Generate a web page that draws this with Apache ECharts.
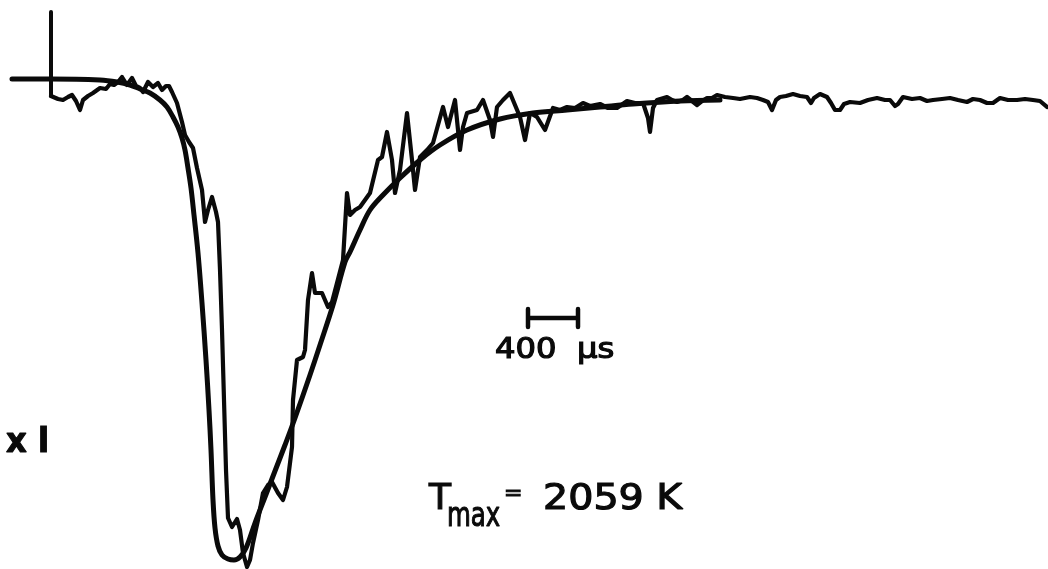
<!DOCTYPE html>
<html>
<head>
<meta charset="utf-8">
<title>Tmax = 2059 K</title>
<script src="https://cdn.jsdelivr.net/npm/echarts@6/dist/echarts.min.js"></script>
<style>
  html, body { margin: 0; padding: 0; background: #fff; }
  #chart { width: 1048px; height: 569px; }
</style>
</head>
<body>
<div id="chart"></div>
<script>
// Time in microseconds (0 = trigger marker), signal in arbitrary units (0 = baseline).

// Fitted (calculated) profile
const fitTime = [-312, -8, 392, 528, 632, 712, 792, 872, 928, 976, 1016, 1048, 1072, 1096, 1120, 1144,
  1176, 1208, 1240, 1264, 1280, 1296, 1312, 1336, 1368, 1416, 1464, 1512, 1560, 1632, 1712, 1792,
  1872, 1952, 2072, 2152, 2256, 2352, 2392, 2472, 2552, 2656, 2792, 2952, 3112, 3328, 3592, 3856,
  4128, 4392, 4656, 5032, 5352];
const fitSignal = [0, 0, -0.2, -0.6, -1.2, -2, -2.8, -4.2, -5.6, -7.6, -9.6, -11.8, -14.2, -17.8, -21.8, -27.2,
  -34.8, -44.8, -56.2, -66.2, -74.2, -84.2, -89.8, -93.4, -95.2, -96, -96.2, -95.6, -93.8, -88.8, -83.6, -78.4,
  -73.2, -67.8, -59.2, -53.2, -45.2, -36.6, -34.6, -30.2, -26.2, -23.2, -19.8, -16.2, -13.2, -10.2, -8, -6.8,
  -6.2, -5.6, -5, -4.4, -4.2];

// Recorded emission trace
const traceTime = [0, 16, 56, 96, 136, 168, 200, 232, 256, 296, 336, 392, 440, 472, 504, 536, 568, 608, 648, 680,
  712, 736, 776, 816, 856, 888, 920, 944, 968, 1008, 1048, 1072, 1104, 1136, 1168, 1208, 1232, 1256, 1288, 1320,
  1336, 1352, 1368, 1384, 1400, 1416, 1448, 1488, 1512, 1536, 1568, 1592, 1616, 1656, 1696, 1736, 1768, 1816, 1856, 1888,
  1928, 1936, 1952, 1968, 2016, 2032, 2056, 2088, 2112, 2168, 2216, 2248, 2288, 2336, 2368, 2392, 2432, 2472, 2552, 2616,
  2648, 2688, 2728, 2752, 2792, 2848, 2888, 2912, 2952, 3008, 3056, 3136, 3176, 3232, 3272, 3296, 3328, 3408, 3456, 3512,
  3536, 3568, 3616, 3672, 3752, 3792, 3832, 3888, 3952, 4016, 4072, 4128, 4192, 4256, 4312, 4392, 4456, 4528, 4608, 4672,
  4736, 4776, 4792, 4816, 4848, 4928, 4968, 5008, 5056, 5088, 5128, 5168, 5208, 5248, 5288, 5328, 5392, 5456, 5512, 5592,
  5648, 5696, 5736, 5768, 5800, 5832, 5880, 5936, 5992, 6048, 6080, 6104, 6152, 6208, 6240, 6272, 6312, 6344, 6392, 6472,
  6536, 6608, 6672, 6712, 6752, 6776, 6816, 6888, 6952, 7008, 7056, 7128, 7192, 7256, 7328, 7376, 7432, 7488, 7536, 7592,
  7656, 7728, 7792, 7856, 7912, 7968];
const traceSignal = [-3.4, -3.6, -4, -4.2, -3.6, -3.2, -4.4, -6.2, -4.2, -3.4, -2.8, -1.8, -2, -1, -1.2, -0.6, 0.4, -1.2, 0.2, -1.4,
  -1.8, -2.6, -0.6, -1.6, -0.8, -2.2, -1.4, -1.4, -2.6, -4.8, -8.6, -11.2, -12.6, -13.8, -17.8, -22.2, -28.6, -26.2, -23.6, -26.6,
  -28.6, -38.2, -50.2, -64.2, -78.2, -87.8, -89.6, -88, -90.2, -94.8, -97.6, -96.2, -92.8, -88.2, -82.8, -81.2, -80.6, -82.8, -84.2, -81.6,
  -73.6, -64.2, -60.2, -56.2, -55.6, -54.2, -44.2, -38.8, -42.8, -42.8, -45.6, -44.6, -40.8, -36.2, -22.8, -27.2, -26.2, -25.6, -22.8, -16.2,
  -15.6, -10.6, -16.2, -22.8, -18.2, -6.8, -16.2, -22.2, -15.6, -14.2, -12.8, -5.6, -9.6, -4.2, -14.2, -9.6, -6.8, -6.2, -4.2, -8.2,
  -11.6, -5.6, -4.2, -2.8, -7.6, -12.2, -6.8, -7.6, -10.2, -5.8, -6.2, -5.6, -5.8, -4.8, -5.4, -5, -5.8, -5.8, -4.4, -4.8,
  -4.8, -7.8, -10.6, -5.8, -4.2, -3.6, -4.2, -4.6, -4.2, -3.6, -4.4, -5.2, -4.4, -3.8, -3.8, -3.2, -3.6, -3.8, -4, -3.6,
  -3.8, -4.2, -4.6, -6.2, -4.2, -3.6, -3.4, -3, -3.4, -3.6, -4.8, -3.8, -3, -3.6, -4.8, -6.2, -6.2, -5, -4.6, -4.8,
  -4.2, -3.8, -4.2, -4.2, -5.4, -5, -3.6, -4, -3.8, -4.4, -4.2, -4, -3.8, -4.2, -4.6, -4, -4.2, -4.8, -4.8, -3.8,
  -4.2, -4.2, -4, -4.2, -4.4, -5.6];

// Trigger marker (t = 0)
const markerTime = [0, 0];
const markerSignal = [13.4, -3.4];

// Time scale bar: 400 us
const scaleStart = 3816;
const scaleLength = 400;
const scaleLevel = -47.8;
const scaleTickHalf = 1.8;

const zip = (xs, ys) => xs.map((x, i) => [x, ys[i]]);

const scaleBar = [
  [scaleStart, scaleLevel + scaleTickHalf], [scaleStart, scaleLevel - scaleTickHalf], [scaleStart, scaleLevel],
  [scaleStart + scaleLength, scaleLevel], [scaleStart + scaleLength, scaleLevel + scaleTickHalf],
  [scaleStart + scaleLength, scaleLevel - scaleTickHalf]
];

const ink = '#0a0a0a';
const font = '"DejaVu Sans", sans-serif';

const chart = echarts.init(document.getElementById('chart'), null, { renderer: 'canvas' });

const lineBase = (width) => ({
  type: 'line',
  symbol: 'none',
  silent: true,
  lineStyle: { color: ink, width: width, cap: 'round', join: 'round' }
});

const label = (x, y, text, size, opts) => Object.assign({
  type: 'text', x: x, y: y,
  style: {
    text: text, font: size + 'px ' + font, fill: ink, stroke: ink, lineWidth: 1.2,
    align: 'left', verticalAlign: 'middle', textAlign: 'left', textVerticalAlign: 'middle'
  }
}, opts || {});

chart.setOption({
  animation: false,
  backgroundColor: '#ffffff',
  grid: { left: 0, right: 0, top: 0, bottom: 0 },
  xAxis: { type: 'value', min: -408, max: 7976, show: false },
  yAxis: { type: 'value', min: -98, max: 15.8, show: false },
  series: [
    Object.assign(lineBase(5), { name: 'fit', smooth: 0.35, data: zip(fitTime, fitSignal) }),
    Object.assign(lineBase(4.2), { name: 'trace', data: zip(traceTime, traceSignal) }),
    Object.assign(lineBase(4), { name: 'marker', data: zip(markerTime, markerSignal) }),
    Object.assign(lineBase(4.5), { name: 'scale', data: scaleBar })
  ],
  graphic: [
    label(495, 351, '400  \u03bcs', 28, { scaleX: 1.15 }),
    label(6, 443, 'x l', 'bold 34', { scaleX: 0.95 }),
    label(429, 500, 'T', 36),
    label(447, 517, 'max', 34, { scaleX: 0.72 }),
    label(504, 494, '=', 22),
    label(543, 500, '2059 K', 36, { scaleX: 1.1 })
  ]
});
</script>
</body>
</html>
